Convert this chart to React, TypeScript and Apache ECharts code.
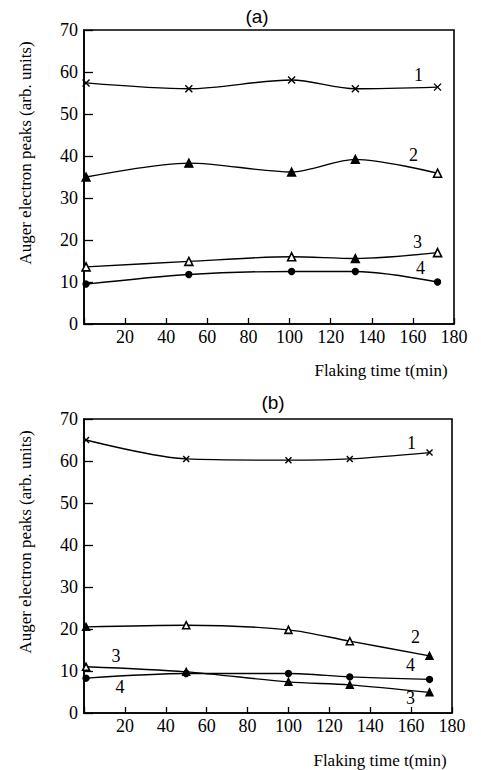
import React, { useEffect, useRef } from "react";
import * as echarts from "echarts";

// Flaking time (min) of the measured points in each panel
const timesA = [1, 51, 101, 132, 172];
const timesB = [1, 50, 100, 130, 169];

// Panel (a): Auger electron peaks (arb. units)
const a1 = [57.4, 56.0, 58.1, 56.0, 56.4];
const a2 = [35.0, 38.3, 36.2, 39.2, 35.9];
const a3 = [13.6, 14.9, 16.0, 15.6, 17.0];
const a4 = [9.5, 11.8, 12.5, 12.5, 10.0];

// Panel (b)
const b1 = [65.0, 60.5, 60.2, 60.5, 62.0];
const b2 = [20.5, 20.9, 19.8, 17.1, 13.6];
const b3 = [11.0, 9.8, 7.4, 6.7, 4.9];
const b4 = [8.3, 9.4, 9.4, 8.6, 8.0];

const xTicks = [0, 20, 40, 60, 80, 100, 120, 140, 160, 180];
const yTicks = [0, 10, 20, 30, 40, 50, 60, 70];
const curveNames = ["1", "2", "3", "4"];
const panelTitles = ["(a)", "(b)"];
const xAxisName = "Flaking time t(min)";
const yAxisName = "Auger electron peaks (arb. units)";

const SERIF = "Liberation Serif";
const SANS = "Liberation Sans";
const CROSS = "path://M0,0L10,10M10,0L0,10";

type LabelSpec = { idx: number; text: string; offset: [number, number] };

function makeSeries(
  gridIndex: number,
  xs: number[],
  ys: number[],
  symbol: string,
  size: number,
  openIdx: number[],
  labels: LabelSpec[]
) {
  return {
    type: "line",
    xAxisIndex: gridIndex,
    yAxisIndex: gridIndex,
    smooth: 0.3,
    symbol,
    symbolSize: size,
    lineStyle: { color: "#000", width: 1.4 },
    itemStyle: { color: "#000", borderColor: "#000", borderWidth: 1.4 },
    data: xs.map((x, i) => {
      const item: any = { value: [x, ys[i]] };
      if (openIdx.includes(i)) {
        item.itemStyle = { color: "#fff", borderColor: "#000", borderWidth: 1.6 };
      }
      const lab = labels.find((l) => l.idx === i);
      if (lab) {
        item.label = {
          show: true,
          formatter: lab.text,
          position: "inside",
          offset: lab.offset,
          color: "#000",
          fontFamily: SERIF,
          fontSize: 18,
        };
      }
      return item;
    }),
  };
}

function axisPair(gridIndex: number) {
  const xAxis = {
    type: "value",
    gridIndex,
    min: xTicks[0],
    max: xTicks[xTicks.length - 1],
    interval: xTicks[1] - xTicks[0],
    axisLine: { lineStyle: { color: "#000", width: 1.6 } },
    axisTick: { show: true, inside: true, length: 6, lineStyle: { color: "#000", width: 1.3 } },
    axisLabel: {
      color: "#000",
      fontFamily: SERIF,
      fontSize: 18,
      margin: 4,
      formatter: (v: number) => (v === 0 ? "" : String(v)),
    },
    splitLine: { show: false },
  };
  const yAxis = {
    type: "value",
    gridIndex,
    min: yTicks[0],
    max: yTicks[yTicks.length - 1],
    interval: yTicks[1] - yTicks[0],
    axisLine: { show: true, lineStyle: { color: "#000", width: 1.6 } },
    axisTick: { show: true, inside: true, length: 9, lineStyle: { color: "#000", width: 1.3 } },
    axisLabel: { color: "#000", fontFamily: SERIF, fontSize: 18, margin: 6 },
    splitLine: { show: false },
  };
  return { xAxis, yAxis };
}

export default function App() {
  const ref = useRef<HTMLDivElement>(null);

  useEffect(() => {
    if (!ref.current) return;
    const chart = echarts.init(ref.current, undefined, { renderer: "svg" });
    const pA = axisPair(0);
    const pB = axisPair(1);

    const option: any = {
      animation: false,
      backgroundColor: "#fff",
      textStyle: { fontFamily: SERIF },
      grid: [
        { left: 84, top: 30, width: 370, height: 294, show: true, borderColor: "#000", borderWidth: 1.6 },
        { left: 84, top: 419, width: 368, height: 294, show: true, borderColor: "#000", borderWidth: 1.6 },
      ],
      xAxis: [pA.xAxis, pB.xAxis],
      yAxis: [pA.yAxis, pB.yAxis],
      series: [
        makeSeries(0, timesA, a1, CROSS, 7, [], [{ idx: 4, text: curveNames[0], offset: [-19, -12] }]),
        makeSeries(0, timesA, a2, "triangle", 8, [4], [{ idx: 4, text: curveNames[1], offset: [-24, -18] }]),
        makeSeries(0, timesA, a3, "triangle", 8, [0, 1, 2, 4], [{ idx: 4, text: curveNames[2], offset: [-20, -11] }]),
        makeSeries(0, timesA, a4, "circle", 6, [], [{ idx: 4, text: curveNames[3], offset: [-17, -14] }]),
        makeSeries(1, timesB, b1, CROSS, 6, [], [{ idx: 4, text: curveNames[0], offset: [-18, -10] }]),
        makeSeries(1, timesB, b2, "triangle", 7, [1, 2, 3], [{ idx: 4, text: curveNames[1], offset: [-14, -19] }]),
        makeSeries(1, timesB, b3, "triangle", 7, [0], [
          { idx: 0, text: curveNames[2], offset: [30, -11] },
          { idx: 4, text: curveNames[2], offset: [-19, 6] },
        ]),
        makeSeries(1, timesB, b4, "circle", 6, [], [
          { idx: 0, text: curveNames[3], offset: [34, 9] },
          { idx: 4, text: curveNames[3], offset: [-19, -14] },
        ]),
      ],
      graphic: [
        { type: "text", x: 257, y: 16, style: { text: panelTitles[0], font: `19px ${SANS}`, fill: "#000", align: "center", verticalAlign: "middle" } },
        { type: "text", x: 273, y: 402, style: { text: panelTitles[1], font: `19px ${SANS}`, fill: "#000", align: "center", verticalAlign: "middle" } },
        { type: "text", x: 381, y: 370, style: { text: xAxisName, font: `17px ${SERIF}`, fill: "#000", align: "center", verticalAlign: "middle" } },
        { type: "text", x: 380, y: 760, style: { text: xAxisName, font: `17px ${SERIF}`, fill: "#000", align: "center", verticalAlign: "middle" } },
        { type: "text", x: 25, y: 153, rotation: Math.PI / 2, style: { text: yAxisName, font: `17px ${SERIF}`, fill: "#000", align: "center", verticalAlign: "middle" } },
        { type: "text", x: 25, y: 542, rotation: Math.PI / 2, style: { text: yAxisName, font: `17px ${SERIF}`, fill: "#000", align: "center", verticalAlign: "middle" } },
      ],
    };
    chart.setOption(option);
    return () => chart.dispose();
  }, []);

  return (
    <div
      ref={ref}
      style={{ position: "fixed", left: 0, top: 0, width: 481, height: 770, background: "#fff" }}
    />
  );
}
